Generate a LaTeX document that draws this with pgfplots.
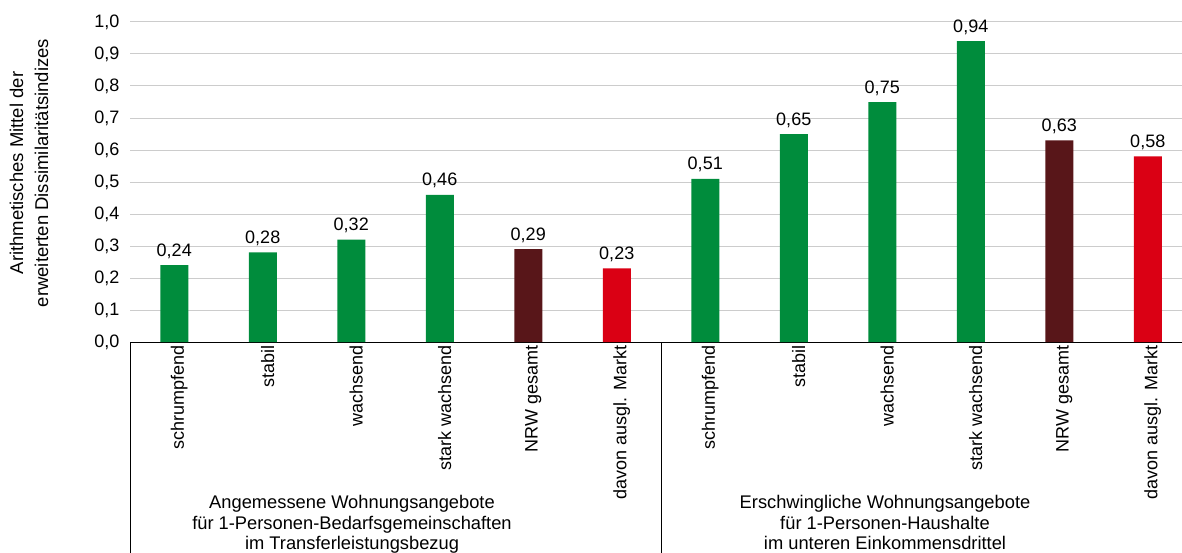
\documentclass[border=0pt]{standalone}
\usepackage{pgfplots}
\pgfplotsset{compat=1.18}
\usepackage{fontspec}
\setmainfont{Liberation Sans}
\definecolor{cgreen}{RGB}{0,140,60}
\definecolor{cdark}{RGB}{88,22,25}
\definecolor{cred}{RGB}{218,0,20}
\begin{document}
\begin{tikzpicture}[x=1pt,y=1pt]
\useasboundingbox (0,0) rectangle (1182,552);
\begin{scope}
\clip (0,0) rectangle (1182,552);
\begin{axis}[
  at={(130pt,210pt)}, anchor=south west,
  scale only axis, width=1062pt, height=320pt,
  xmin=-0.5, xmax=11.5, ymin=0, ymax=1,
  xtick={0,1,2,3,4,5,6,7,8,9,10,11},
  xticklabels={schrumpfend,stabil,wachsend,stark wachsend,NRW gesamt,davon ausgl. Markt,schrumpfend,stabil,wachsend,stark wachsend,NRW gesamt,davon ausgl. Markt},
  ytick={0,0.1,0.2,0.3,0.4,0.5,0.6,0.7,0.8,0.9,1.0},
  ymajorgrids, grid style={draw=black!20, line width=1pt},
  axis x line*=bottom, axis y line*=left,
  y axis line style={draw=none},
  x axis line style={line width=1pt},
  major tick length=0pt,
  tick style={draw=none},
  font=\fontsize{18}{21}\selectfont,
  x tick label style={rotate=90, anchor=east, yshift=-5pt},
  y tick label style={xshift=-7pt, /pgf/number format/.cd, fixed, fixed zerofill, precision=1, use comma, assume math mode=true},
  ybar, bar width=28pt, bar shift=0pt,
  nodes near coords={\pgfmathprintnumber[fixed,fixed zerofill,precision=2,use comma,assume math mode=true]{\pgfplotspointmeta}},
  nodes near coords style={font=\fontsize{18}{21}\selectfont, yshift=3pt},
  clip=false,
]
\addplot[fill=cgreen, draw=none] coordinates {(0,0.24) (1,0.28) (2,0.32) (3,0.46) (6,0.51) (7,0.65) (8,0.75) (9,0.94)};
\addplot[fill=cdark, draw=none] coordinates {(4,0.29) (10,0.63)};
\addplot[fill=cred, draw=none] coordinates {(5,0.23) (11,0.58)};
\draw[black, line width=1pt] (axis cs:-0.5,0) -- ++(0pt,-260pt);
\draw[black, line width=1pt] (axis cs:5.5,0) -- ++(0pt,-260pt);
\end{axis}
\node[align=center, anchor=north, inner sep=0pt, font=\fontsize{18.3}{20.5}\selectfont] at (352,56.5) {Angemessene Wohnungsangebote\\für 1-Personen-Bedarfsgemeinschaften\\im Transferleistungsbezug};
\node[align=center, anchor=north, inner sep=0pt, font=\fontsize{18.3}{20.5}\selectfont] at (885,56.5) {Erschwingliche Wohnungsangebote\\für 1-Personen-Haushalte\\im unteren Einkommensdrittel};
\node[rotate=90, anchor=center, align=center, inner sep=0pt, font=\fontsize{18.5}{25}\selectfont] at (29,379) {Arithmetisches Mittel der\\erweiterten Dissimilaritätsindizes};
\end{scope}
\end{tikzpicture}
\end{document}
